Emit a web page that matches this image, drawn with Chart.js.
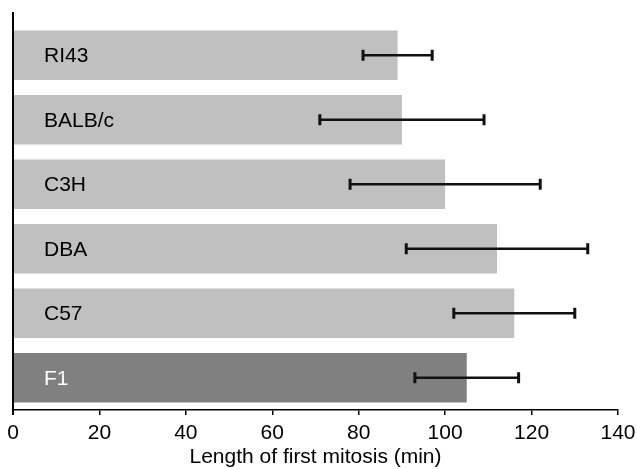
<!DOCTYPE html>
<html>
<head>
<meta charset="utf-8">
<script src="https://cdn.jsdelivr.net/npm/chart.js@4"></script>
<style>
html,body{margin:0;padding:0;background:#fff;}
#wrap{width:637px;height:469px;}
</style>
</head>
<body>
<div id="wrap"><canvas id="c" width="637" height="469"></canvas></div>
<script>
const categories = ["RI43", "BALB/c", "C3H", "DBA", "C57", "F1"];
const meanValues = [89, 90, 100, 112, 116, 105];
const errLow = [81, 71, 78, 91, 102, 93];
const errHigh = [97, 109, 122, 133, 130, 117];
const xTicks = [0, 20, 40, 60, 80, 100, 120, 140];
const barColors = ["#c0c0c0", "#c0c0c0", "#c0c0c0", "#c0c0c0", "#c0c0c0", "#808080"];
const labelColors = ["#000", "#000", "#000", "#000", "#000", "#fff"];

const FONT = "'Liberation Sans', Arial, Helvetica, sans-serif";

const overlay = {
  id: 'overlay',
  afterDatasetsDraw(chart) {
    const ctx = chart.ctx;
    const xs = chart.scales.x, ys = chart.scales.y;
    ctx.save();
    // error bars
    ctx.strokeStyle = '#111';
    categories.forEach((c, i) => {
      const y = ys.getPixelForValue(i);
      const x1 = xs.getPixelForValue(errLow[i]);
      const x2 = xs.getPixelForValue(errHigh[i]);
      ctx.lineWidth = 2.5;
      ctx.beginPath();
      ctx.moveTo(x1, y); ctx.lineTo(x2, y);
      ctx.stroke();
      ctx.lineWidth = 3;
      ctx.beginPath();
      ctx.moveTo(x1, y - 5.5); ctx.lineTo(x1, y + 5.5);
      ctx.moveTo(x2, y - 5.5); ctx.lineTo(x2, y + 5.5);
      ctx.stroke();
    });
    // labels inside bars
    ctx.font = '21px ' + FONT;
    ctx.textBaseline = 'middle';
    ctx.textAlign = 'left';
    const x0 = xs.getPixelForValue(0);
    categories.forEach((c, i) => {
      ctx.fillStyle = labelColors[i];
      ctx.fillText(c, x0 + 31, ys.getPixelForValue(i) + 1);
    });
    // vertical axis line
    ctx.strokeStyle = '#000';
    ctx.lineWidth = 2;
    ctx.beginPath();
    ctx.moveTo(x0, chart.chartArea.top - 11);
    ctx.lineTo(x0, chart.chartArea.bottom + 5);
    ctx.stroke();
    ctx.restore();
  }
};

new Chart(document.getElementById('c'), {
  type: 'bar',
  data: {
    labels: categories,
    datasets: [{
      data: meanValues,
      backgroundColor: barColors,
      borderWidth: 0,
      barPercentage: 0.767,
      categoryPercentage: 1.0
    }]
  },
  options: {
    indexAxis: 'y',
    responsive: false,
    animation: false,
    devicePixelRatio: 1,
    layout: { padding: { left: 13, right: 19, top: 23, bottom: 0 } },
    plugins: { legend: { display: false }, tooltip: { enabled: false } },
    scales: {
      x: {
        type: 'linear',
        min: 0, max: 140,
        afterBuildTicks(scale) { scale.ticks = xTicks.map(v => ({ value: v })); },
        afterFit(scale) { scale.height = 59; scale.paddingLeft = 0; scale.paddingRight = 0; },
        grid: { display: true, drawOnChartArea: false, drawTicks: true, tickLength: 5, color: '#000', lineWidth: 1.5 },
        border: { display: true, color: '#000', width: 1.5 },
        ticks: { color: '#000', padding: 7, maxRotation: 0, font: { family: FONT, size: 21, lineHeight: 1.1 } },
        title: { display: true, text: 'Length of first mitosis (min)', color: '#000', padding: { top: 3, bottom: 0 }, font: { family: FONT, size: 21, lineHeight: 1.1 } }
      },
      y: {
        display: false
      }
    }
  },
  plugins: [overlay]
});
</script>
</body>
</html>
